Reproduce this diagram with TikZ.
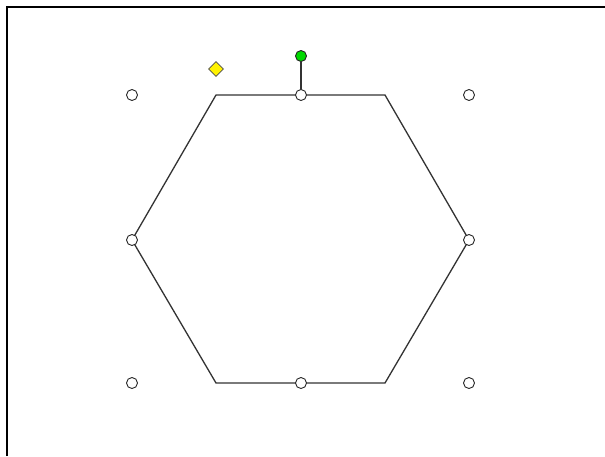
\documentclass[tikz,border=0pt]{standalone}
\usetikzlibrary{shapes.geometric}
\begin{document}
\begin{tikzpicture}[x=1pt,y=-1pt,
  handle/.style={circle,draw=black!85,fill=white,line width=0.9pt,inner sep=0pt,minimum size=11pt},
  rothandle/.style={circle,draw=black!85,fill=green!85!black,line width=0.9pt,inner sep=0pt,minimum size=11pt},
  adjhandle/.style={diamond,draw=black!70,fill=yellow,line width=0.6pt,inner sep=0pt,minimum size=15pt},
  edge/.style={line width=1.3pt,draw=black!80}]
\useasboundingbox (0,0) rectangle (605,456);
\fill[white] (0,0) rectangle (605,456);
\draw[line width=2pt] (7,456) -- (7,7) -- (605,7);
% hexagon vertices
\coordinate (tl) at (216,95);
\coordinate (tr) at (385,95);
\coordinate (r) at (469,240);
\coordinate (br) at (385,383);
\coordinate (bl) at (216,383);
\coordinate (l) at (132,240);
\draw[edge] (tl) -- (tr) -- (r) -- (br) -- (bl) -- (l) -- cycle;
% rotation handle
\node[rothandle] (rot) at (301,56) {};
\node[handle] (hT) at (301,95) {};
\draw[edge] (rot) -- (hT);
% sizing handles
\node[handle] (hTL) at (132,95) {};
\node[handle] (hTR) at (469,95) {};
\node[handle] (hL) at (132,240) {};
\node[handle] (hR) at (469,240) {};
\node[handle] (hBL) at (132,383) {};
\node[handle] (hB) at (301,383) {};
\node[handle] (hBR) at (469,383) {};
% adjust handle
\node[adjhandle] (adj) at (216,69) {};
\end{tikzpicture}
\end{document}
